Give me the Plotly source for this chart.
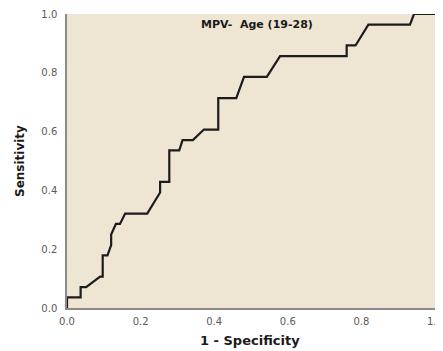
import plotly.graph_objects as go

# ROC curve points (1 - specificity, sensitivity)
fpr = [0.0, 0.0, 0.037, 0.037, 0.052, 0.090, 0.097, 0.097, 0.110, 0.120, 0.120,
       0.133, 0.144, 0.158, 0.218, 0.253, 0.253, 0.278, 0.278, 0.305, 0.314,
       0.342, 0.372, 0.411, 0.411, 0.460, 0.481, 0.543, 0.579, 0.760, 0.760,
       0.784, 0.819, 0.932, 0.943, 1.0]
tpr = [0.0, 0.036, 0.036, 0.071, 0.071, 0.107, 0.107, 0.179, 0.179, 0.214, 0.250,
       0.286, 0.286, 0.321, 0.321, 0.393, 0.429, 0.429, 0.536, 0.536, 0.571,
       0.571, 0.607, 0.607, 0.714, 0.714, 0.786, 0.786, 0.857, 0.857, 0.893,
       0.893, 0.964, 0.964, 1.0, 1.0]

tick_vals = [0.0, 0.2, 0.4, 0.6, 0.8, 1.0]
tick_text = ["0.0", "0.2", "0.4", "0.6", "0.8", "1.0"]

title_text = "MPV-&nbsp; Age (19-28)"
x_title = "1 - Specificity"
y_title = "Sensitivity"

FONT = "DejaVu Sans"

fig = go.Figure()
fig.add_trace(go.Scatter(
    x=fpr, y=tpr, mode="lines",
    line=dict(color="#1c1c1c", width=2.2),
    cliponaxis=False, showlegend=False, hoverinfo="skip",
))

axis_common = dict(
    range=[0, 1], showgrid=False, zeroline=False,
    showline=True, linecolor="#8a8a8a", linewidth=1.5,
    tickvals=tick_vals, ticktext=tick_text, ticks="",
    tickfont=dict(family=FONT, size=10, color="#5a5a5a"),
    fixedrange=True, automargin=False,
)

# page body has an 8px default margin, so the figure is offset by 8px
fig.update_layout(
    width=435, height=343,
    margin=dict(l=59, r=8, t=6, b=43),
    paper_bgcolor="white",
    plot_bgcolor="#EEE6D2",
    xaxis=dict(**axis_common, ticklabelstandoff=3),
    yaxis=dict(**axis_common, ticklabelstandoff=6),
    font=dict(family=FONT),
    annotations=[
        dict(text="<b>" + title_text + "</b>", x=0.516, y=0.963,
             xref="paper", yref="paper", xanchor="center", yanchor="middle",
             showarrow=False, font=dict(family=FONT, size=11, color="#1a1a1a")),
        dict(text="<b>" + x_title + "</b>", x=0.497, y=0, xref="paper", yref="paper",
             xanchor="center", yanchor="middle", yshift=-32,
             showarrow=False, font=dict(family=FONT, size=13, color="#1a1a1a")),
        dict(text="<b>" + y_title + "</b>", x=0, y=0.5, xref="paper", yref="paper",
             xanchor="center", yanchor="middle", xshift=-47, textangle=-90,
             showarrow=False, font=dict(family=FONT, size=12, color="#1a1a1a")),
    ],
)

fig.write_html("out.html")
